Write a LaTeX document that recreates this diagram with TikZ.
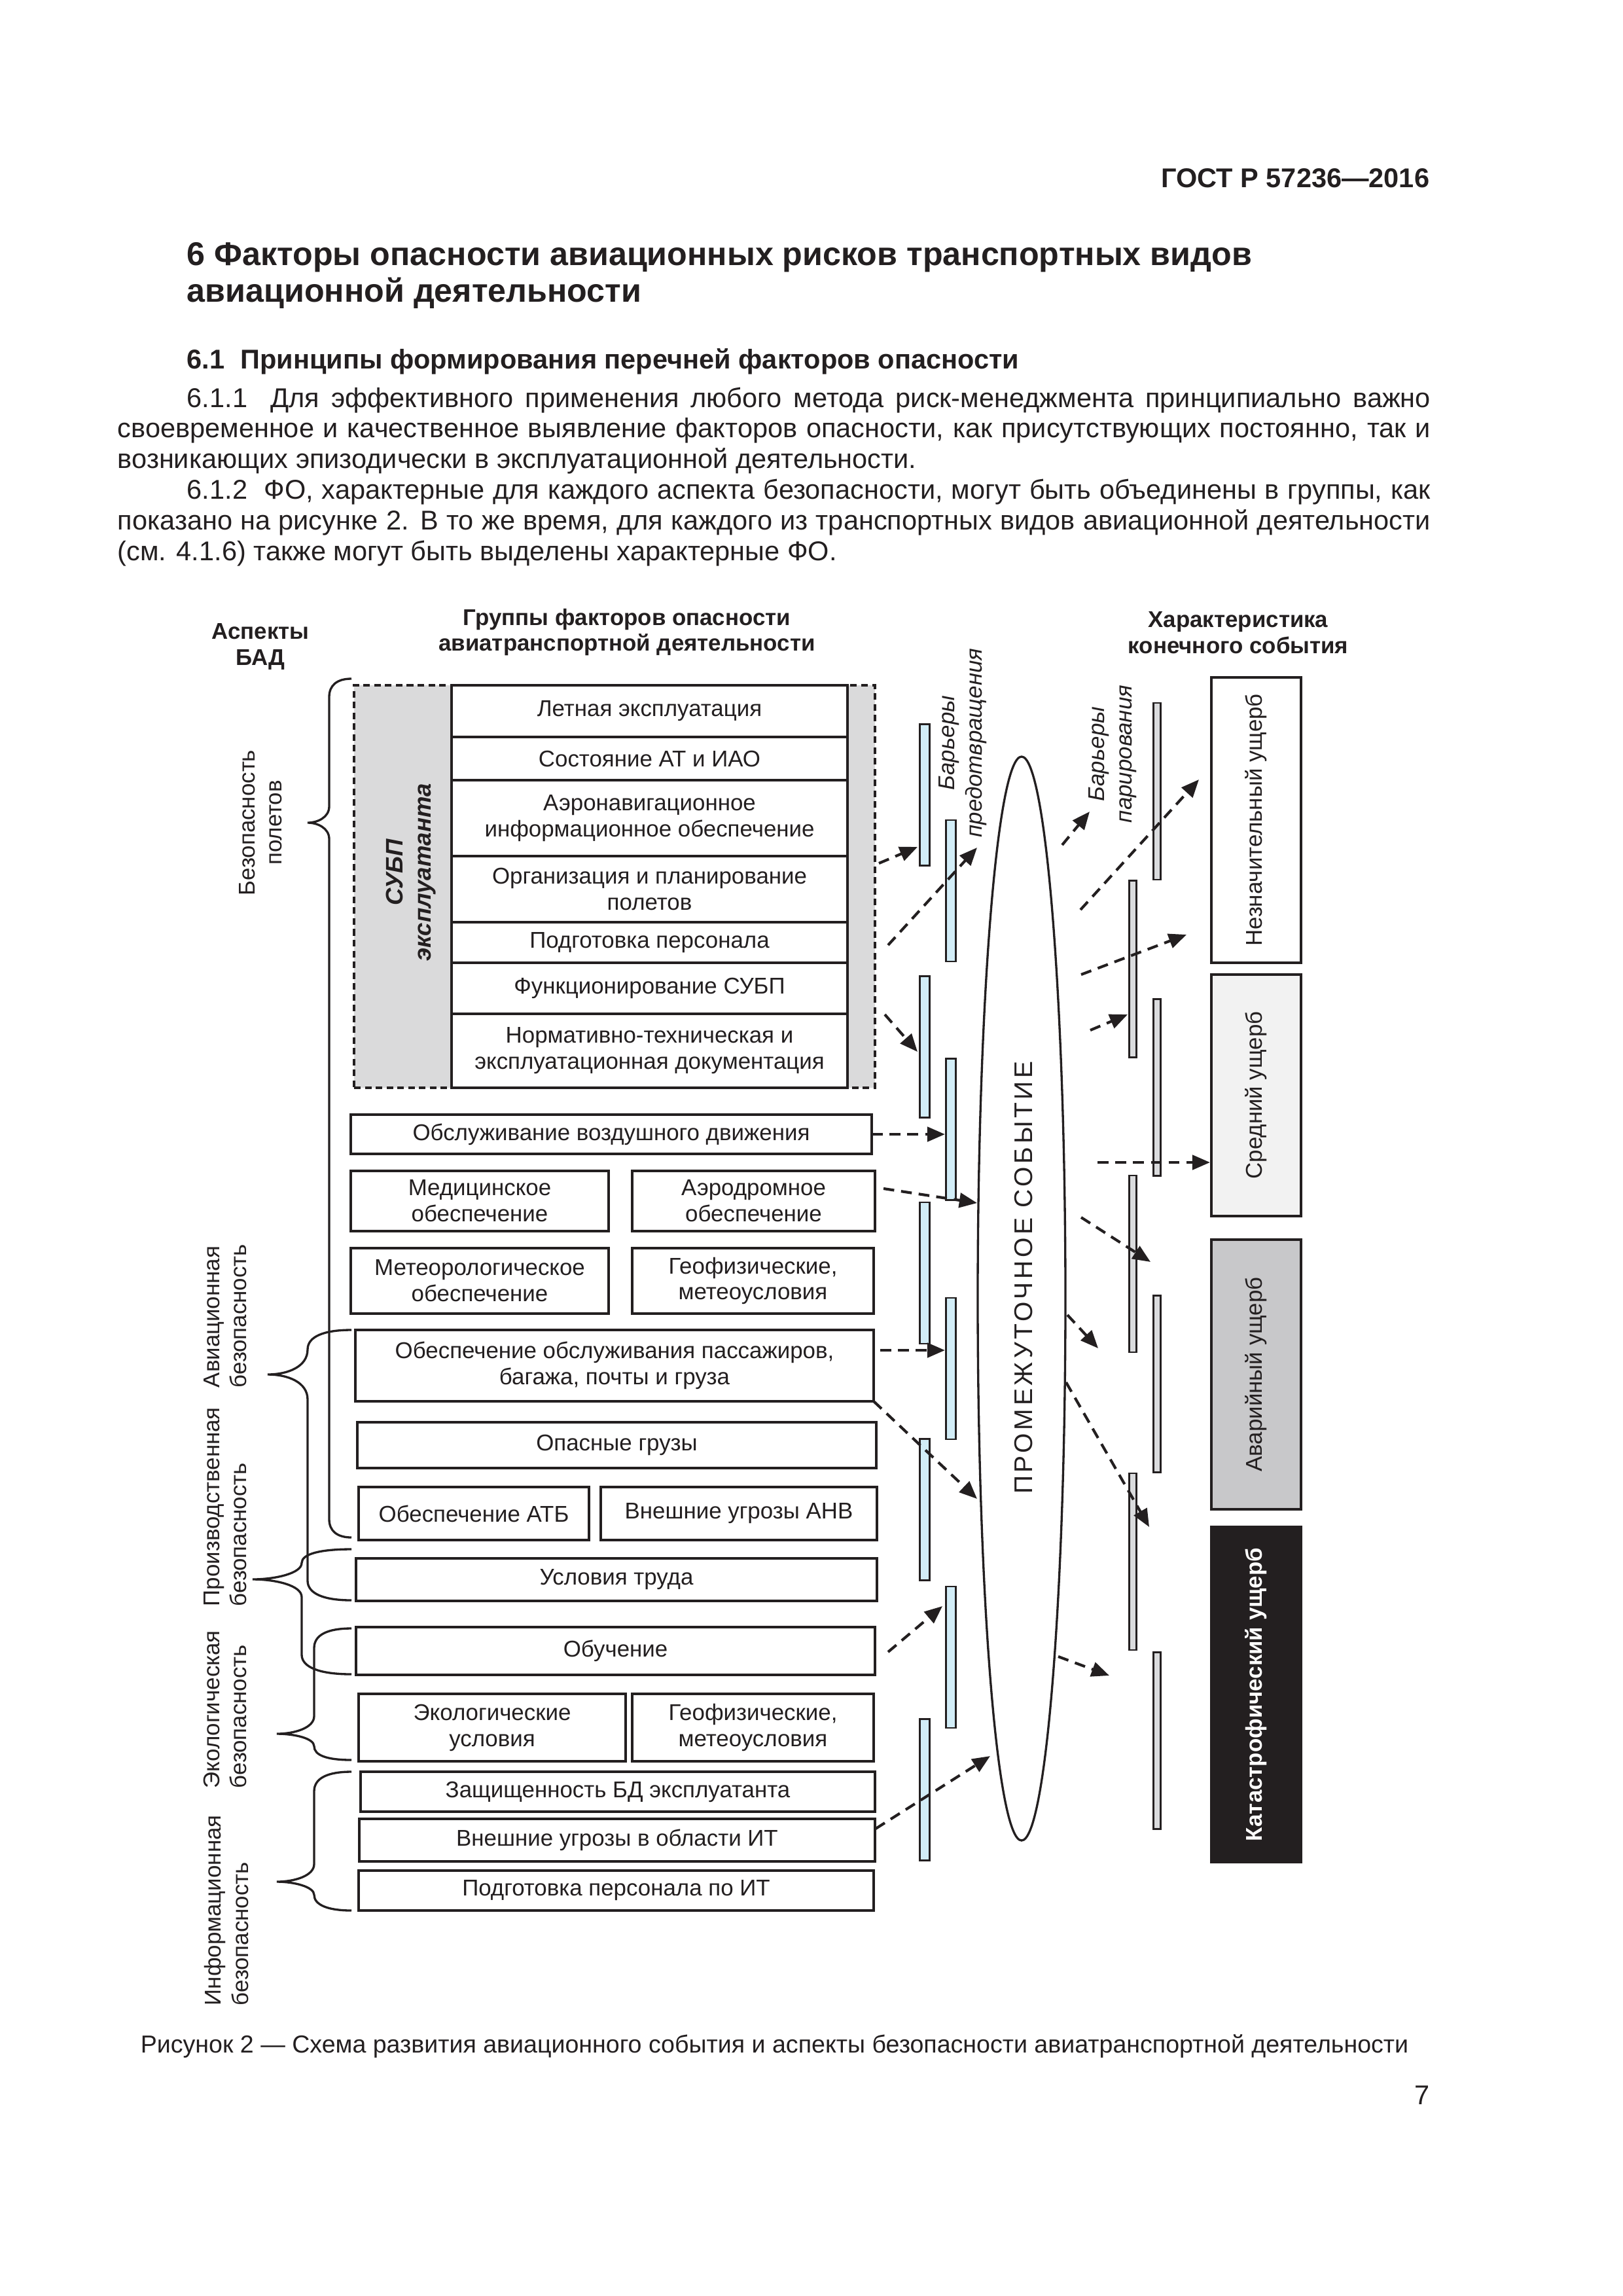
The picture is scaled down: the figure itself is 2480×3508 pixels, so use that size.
\documentclass[tikz,border=0pt]{standalone}
\usepackage{fontspec}
\setmainfont{Liberation Sans}
\newfontfamily\spacedfont[LetterSpace=12]{Liberation Sans}
\usetikzlibrary{arrows.meta, positioning, shapes.geometric}
\definecolor{ink}{RGB}{35,31,32}
\definecolor{subpgray}{RGB}{218,218,219}
\definecolor{barblue}{RGB}{210,237,247}
\definecolor{bargray}{RGB}{218,219,221}
\definecolor{midfill}{RGB}{242,242,242}
\definecolor{majorfill}{RGB}{200,200,202}
\newlength{\px}\setlength{\px}{0.0846774mm}

\begin{document}
\begin{tikzpicture}[x=\px, y=-\px, node distance=0pt, every node/.style={text=ink},
 pagetext/.style={inner sep=0pt, font=\fontsize{10}{12}\selectfont},
 box/.style={draw=ink, line width=1.1pt, fill=white, align=center, inner sep=0pt, outer sep=0pt, font=\fontsize{8.4}{9.6}\selectfont},
 row/.style={box, minimum width=605\px},
 hdr/.style={align=center, font=\fontsize{8.4}{9.6}\selectfont\bfseries},
 aspect/.style={rotate=90, anchor=west, align=left, inner sep=0pt, font=\fontsize{8.4}{9.9}\selectfont},
 pbar/.style={draw=ink, line width=0.65pt, fill=barblue, minimum width=15.5\px, minimum height=216\px, inner sep=0pt},
 mbar/.style={draw=ink, line width=0.65pt, fill=bargray, minimum width=10.5\px, minimum height=270\px, inner sep=0pt},
 outcome/.style={draw=ink, line width=1pt, rotate=90, minimum height=137\px, inner sep=0pt, font=\fontsize{8.4}{9.6}\selectfont},
 brace/.style={draw=ink, line width=0.8pt},
 flow/.style={draw=ink, line width=1pt, dash pattern=on 1.4mm off 0.9mm, -{Triangle[length=2.3mm, width=1.9mm]}}]

\fill[white] (0,0) rectangle (2480,3508);
\useasboundingbox (0,0) rectangle (2480,3508);

% page text
\node[pagetext, anchor=base east, font=\fontsize{10}{12}\selectfont\bfseries] (gost) at (2185,286) {ГОСТ Р 57236—2016};
\node[pagetext, anchor=base west, font=\fontsize{12.1}{14}\selectfont\bfseries] (sect) at (285,405) {6 Факторы опасности авиационных рисков транспортных видов};
\node[pagetext, anchor=base west, font=\fontsize{12.1}{14}\selectfont\bfseries] (sect2) at (285,461) {авиационной деятельности};
\node[pagetext, anchor=base west, font=\fontsize{10}{12}\selectfont\bfseries] (subsect) at (285,563) {6.1\hspace{24\px}Принципы формирования перечней факторов опасности};
\node[pagetext, anchor=base west, text width=2006\px, align=justify, font=\fontsize{10}{11.3}\selectfont] (para) at (179,622) {\hspace*{106\px}6.1.1~~Для эффективного применения любого метода риск-менеджмента принципиально важно\linebreak своевременное и качественное выявление факторов опасности, как присутствующих постоянно, так и\linebreak возникающих эпизодически в эксплуатационной деятельности.\par
\hspace*{106\px}6.1.2~~ФО, характерные для каждого аспекта безопасности, могут быть объединены в группы, как\linebreak показано на рисунке 2. В то же время, для каждого из транспортных видов авиационной деятельности\linebreak (см. 4.1.6) также могут быть выделены характерные ФО.};

% column heads
\node[hdr] (aspects) at (398,988) {Аспекты\\БАД};
\node[hdr] (groups) at (958,966) {Группы факторов опасности\\авиатранспортной деятельности};
\node[hdr] (final) at (1892,967) {Характеристика\\конечного события};

% operator SMS block
\node[draw=ink, line width=0.8pt, dash pattern=on 0.85mm off 0.55mm, fill=subpgray, minimum width=796\px, minimum height=615\px, inner sep=0pt] (subp) at (939,1354.5) {};
\node[rotate=90, align=center, font=\fontsize{8.8}{10.3}\selectfont\bfseries\itshape] (subplab) at (628,1333) {СУБП\\эксплуатанта};
\node[row, minimum height=79\px, anchor=north] (flight) at (992.5,1047) {Летная эксплуатация};
\node[row, minimum height=66\px, below=of flight] (aircraft) {Состояние АТ и ИАО};
\node[row, minimum height=116\px, below=of aircraft] (aeronav) {Аэронавигационное\\информационное обеспечение};
\node[row, minimum height=101\px, below=of aeronav] (planning) {Организация и планирование\\полетов};
\node[row, minimum height=62\px, below=of planning] (staff) {Подготовка персонала};
\node[row, minimum height=78\px, below=of staff] (smsfunc) {Функционирование СУБП};
\node[row, minimum height=113\px, below=of smsfunc] (docs) {Нормативно-техническая и\\эксплуатационная документация};

% other factor groups
\node[box, minimum width=796\px, minimum height=60\px] (atc) at (934,1733) {Обслуживание воздушного движения};
\node[box, minimum width=394\px, minimum height=92\px] (medical) at (733,1835) {Медицинское\\обеспечение};
\node[box, minimum width=371\px, minimum height=92\px] (aerodrome) at (1151.5,1835) {Аэродромное\\обеспечение};
\node[box, minimum width=394\px, minimum height=100\px] (meteo) at (733,1957) {Метеорологическое\\обеспечение};
\node[box, minimum width=369\px, minimum height=100\px] (geo) at (1150.5,1957) {Геофизические,\\метеоусловия};
\node[box, minimum width=792\px, minimum height=109\px] (pax) at (939,2086.5) {Обеспечение обслуживания пассажиров,\\багажа, почты и груза};
\node[box, minimum width=793\px, minimum height=70\px] (dgoods) at (942.5,2208) {Опасные грузы};
\node[box, minimum width=352\px, minimum height=81\px] (mro) at (724,2312.5) {Обеспечение АТБ};
\node[box, minimum width=422\px, minimum height=81\px] (threats) at (1129,2312.5) {Внешние угрозы АНВ};
\node[box, minimum width=796\px, minimum height=65\px] (labour) at (942,2413.5) {Условия труда};
\node[box, minimum width=793\px, minimum height=73\px] (training) at (940.5,2522.5) {Обучение};
\node[box, minimum width=408\px, minimum height=103\px] (ecology) at (752,2639.5) {Экологические\\условия};
\node[box, minimum width=369\px, minimum height=103\px] (geoeco) at (1150.5,2639.5) {Геофизические,\\метеоусловия};
\node[box, minimum width=786\px, minimum height=61\px] (dbsec) at (944,2737.5) {Защищенность БД эксплуатанта};
\node[box, minimum width=788\px, minimum height=65\px] (itthreat) at (943,2811.5) {Внешние угрозы в области ИТ};
\node[box, minimum width=787\px, minimum height=61\px] (ittrain) at (941.5,2888.5) {Подготовка персонала по ИТ};

% safety aspects
\node[rotate=90, align=center, inner sep=0pt, font=\fontsize{8.4}{9.9}\selectfont] (flightsafety) at (398,1257) {Безопасность\\полетов};
\node[aspect] (avsec) at (344,2121) {Авиационная\\безопасность};
\node[aspect] (ohs) at (344,2455) {Производственная\\безопасность};
\node[aspect] (envsafety) at (344,2733) {Экологическая\\безопасность};
\node[aspect] (infosec) at (346,3065) {Информационная\\безопасность};
\draw[brace] (537,1037) .. controls (515,1037) and (503,1047) .. (503,1065) -- (503,1232) .. controls (503,1249) and (485,1257) .. (470,1257) .. controls (485,1257) and (503,1265) .. (503,1282) -- (503,2321) .. controls (503,2339) and (515,2349) .. (537,2349);
\draw[brace] (537,2032) .. controls (495,2032) and (470,2042) .. (470,2062) .. controls (470,2088) and (440,2100) .. (409,2100) .. controls (440,2100) and (470,2112) .. (470,2138) -- (470,2415) .. controls (470,2435) and (495,2445) .. (537,2445);
\draw[brace] (537,2367) .. controls (490,2367) and (461,2374) .. (461,2388) .. controls (461,2404) and (420,2413) .. (386,2413) .. controls (420,2413) and (461,2422) .. (461,2440) -- (461,2528) .. controls (461,2548) and (490,2558) .. (537,2558);
\draw[brace] (537,2488) .. controls (500,2488) and (480,2498) .. (480,2518) -- (480,2622) .. controls (480,2640) and (450,2649) .. (423,2649) .. controls (450,2649) and (480,2656) .. (480,2668) .. controls (480,2682) and (500,2689) .. (537,2689);
\draw[brace] (537,2707) .. controls (500,2707) and (480,2717) .. (480,2737) -- (480,2848) .. controls (480,2866) and (450,2875) .. (423,2875) .. controls (450,2875) and (480,2883) .. (480,2895) .. controls (480,2910) and (500,2919) .. (537,2919);

% barriers and intermediate event
\node[rotate=90, align=center, font=\fontsize{8.4}{10.1}\selectfont\itshape] (prevlab) at (1471,1135) {Барьеры\\предотвращения};
\node[rotate=90, align=center, font=\fontsize{8.4}{10.1}\selectfont\itshape] (mitlab) at (1700,1152) {Барьеры\\парирования};
\node[pbar] (pb1) at (1413,1214.5) {};
\node[pbar] (pb2) at (1453,1361) {};
\node[pbar] (pb3) at (1413,1599.5) {};
\node[pbar] (pb4) at (1453,1725.5) {};
\node[pbar] (pb5) at (1413,1945) {};
\node[pbar] (pb6) at (1453,2091) {};
\node[pbar] (pb7) at (1413,2306.5) {};
\node[pbar] (pb8) at (1453,2532) {};
\node[pbar] (pb9) at (1413,2734.5) {};
\node[mbar] (mb1) at (1768,1209) {};
\node[mbar] (mb2) at (1731,1480.5) {};
\node[mbar] (mb3) at (1768,1661.5) {};
\node[mbar] (mb4) at (1731,1931) {};
\node[mbar] (mb5) at (1768,2114.5) {};
\node[mbar] (mb6) at (1731,2386) {};
\node[mbar] (mb7) at (1768,2659.5) {};
\node[draw=ink, ellipse, line width=0.8pt, minimum width=134\px, minimum height=1656\px, inner sep=0pt] (event) at (1561,1984) {};
\node[rotate=90, font={\spacedfont\fontsize{9.4}{11}\selectfont}] (eventlab) at (1564,1952) {ПРОМЕЖУТОЧНОЕ СОБЫТИЕ};

% final event
\node[outcome, fill=white, minimum width=436\px] (minor) at (1919.5,1253) {Незначительный ущерб};
\node[outcome, fill=midfill, minimum width=369\px] (medium) at (1919.5,1673.5) {Средний ущерб};
\node[outcome, fill=majorfill, minimum width=412\px] (severe) at (1919.5,2100) {Аварийный ущерб};
\node[outcome, fill=ink, text=white, font=\fontsize{8.4}{9.6}\selectfont\bfseries, minimum width=512\px] (disaster) at (1919.5,2589) {Катастрофический ущерб};

% arrow ends
\coordinate (s1) at (1343,1319); \coordinate (e1) at (1402,1294);
\coordinate (s2) at (1357,1444); \coordinate (e2) at (1493,1295);
\coordinate (s3) at (1352,1550); \coordinate (e3) at (1402,1607);
\coordinate (s5) at (1350,1816); \coordinate (e5) at (1493,1838);
\coordinate (s6) at (1345,2063); \coordinate (e7) at (1493,2290);
\coordinate (s8) at (1357,2524); \coordinate (e8) at (1440,2454);
\coordinate (s9) at (1338,2794); \coordinate (e9) at (1513,2683);
\coordinate (s10) at (1623,1291); \coordinate (e10) at (1665,1240);
\coordinate (s11) at (1651,1390); \coordinate (e11) at (1832,1191);
\coordinate (s12) at (1652,1489); \coordinate (e12) at (1813,1428);
\coordinate (s13) at (1666,1574); \coordinate (e13) at (1723,1550);
\coordinate (s14) at (1677,1776);
\coordinate (s15) at (1652,1860); \coordinate (e15) at (1758,1928);
\coordinate (s16) at (1631,2009); \coordinate (e16) at (1678,2060);
\coordinate (s17) at (1629,2112); \coordinate (e17) at (1756,2333);
\coordinate (s18) at (1617,2531); \coordinate (e18) at (1695,2560);
\draw[flow] (s1)--(e1); \draw[flow] (s2)--(e2); \draw[flow] (s3)--(e3); \draw[flow] (atc.east)--(atc.east -| pb4.west);
\draw[flow] (s5)--(e5); \draw[flow] (s6)--(s6 -| pb6.west); \draw[flow] (pax.south east)--(e7); \draw[flow] (s8)--(e8); \draw[flow] (s9)--(e9);
\draw[flow] (s10)--(e10); \draw[flow] (s11)--(e11); \draw[flow] (s12)--(e12); \draw[flow] (s13)--(e13); \draw[flow] (s14)--(s14 -| medium.north);
\draw[flow] (s15)--(e15); \draw[flow] (s16)--(e16); \draw[flow] (s17)--(e17); \draw[flow] (s18)--(e18);

% caption
\node[pagetext, anchor=base west, font=\fontsize{9.05}{11}\selectfont] (caption) at (214,3136) {Рисунок 2 — Схема развития авиационного события и аспекты безопасности авиатранспортной деятельности};
\node[pagetext, anchor=base east] (pageno) at (2185,3215) {7};

\end{tikzpicture}
\end{document}
